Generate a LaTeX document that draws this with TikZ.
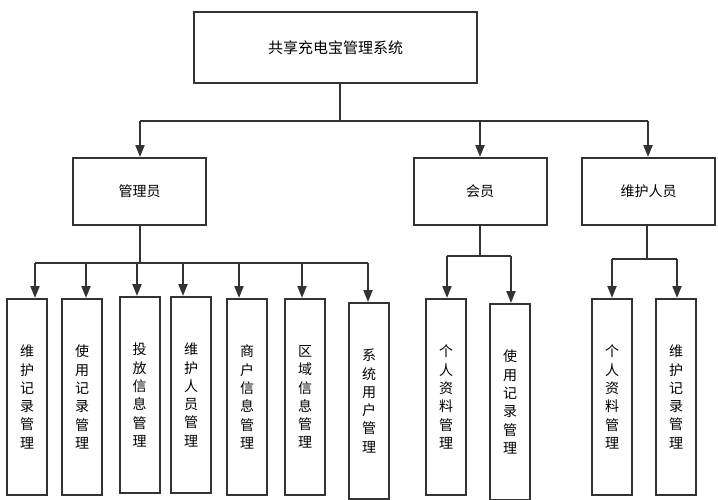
\documentclass[tikz,border=0pt]{standalone}
\usepackage{fontspec}
\newfontfamily\cjk{Noto Sans CJK SC}
\usetikzlibrary{arrows.meta}
\definecolor{ln}{HTML}{333333}

\begin{document}
\begin{tikzpicture}[x=1pt,y=-1pt,box/.style={shape=rectangle,draw=ln,line width=2pt,inner sep=0pt,font=\cjk\fontsize{14}{17}\selectfont},boxT/.style={box,minimum width=283pt,minimum height=71pt,font=\cjk\fontsize{15}{18}\selectfont},boxM/.style={box,minimum width=133pt,minimum height=67pt},leaf/.style={box,minimum width=40pt,minimum height=196pt,align=center,font=\cjk\fontsize{14}{18.3}\selectfont},link/.style={draw=ln,line width=2pt},arr/.style={link,-{Triangle[length=12pt,width=9pt]}}]
\def\yt{121};
\def\ya{263};
\def\yb{256};
\def\yc{259};

\useasboundingbox (0,0) rectangle (718,499);

\node[boxT] (T) at (335.5,47.5) {共享充电宝管理系统};

\node[boxM] (A) at (139.5,191.5) {管理员};
\node[boxM] (B) at (480,191.5) {会员};
\node[boxM] (C) at (648.5,191.5) {维护人员};

\coordinate (t0) at (340,\yt);
\coordinate (tA) at (140,\yt);
\coordinate (tB) at (480,\yt);
\coordinate (tC) at (648,\yt);
\draw[link] (t0 |- T.south) -- (t0);
\draw[link] (tA) -- (tC);
\draw[arr] (tA) -- (tA |- A.north);
\draw[arr] (tB) -- (tB |- B.north);
\draw[arr] (tC) -- (tC |- C.north);

% admin
\node[leaf] (A1) at (27,397) {维\\护\\记\\录\\管\\理};
\node[leaf] (A2) at (82,397) {使\\用\\记\\录\\管\\理};
\node[leaf] (A3) at (139.5,395) {投\\放\\信\\息\\管\\理};
\node[leaf] (A4) at (191,395) {维\\护\\人\\员\\管\\理};
\node[leaf] (A5) at (247,397) {商\\户\\信\\息\\管\\理};
\node[leaf] (A6) at (305,397) {区\\域\\信\\息\\管\\理};
\node[leaf] (A7) at (369,401) {系\\统\\用\\户\\管\\理};

\coordinate (a0) at (139.5,\ya);
\coordinate (a1) at (35,\ya);
\coordinate (a2) at (86,\ya);
\coordinate (a3) at (137,\ya);
\coordinate (a4) at (183,\ya);
\coordinate (a5) at (239,\ya);
\coordinate (a6) at (302,\ya);
\coordinate (a7) at (368,\ya);
\draw[link] (A.south) -- (a0);
\draw[link] (a1) -- (a7);
\foreach \i in {1,...,7}
  \draw[arr] (a\i) -- (a\i |- A\i.north);

% member
\node[leaf] (B1) at (446,397) {个\\人\\资\\料\\管\\理};
\node[leaf] (B2) at (510,402) {使\\用\\记\\录\\管\\理};

\coordinate (b0) at (480,\yb);
\coordinate (b1) at (447,\yb);
\coordinate (b2) at (511,\yb);
\draw[link] (B.south) -- (b0);
\draw[link] (b1) -- (b2);
\draw[arr] (b1) -- (b1 |- B1.north);
\draw[arr] (b2) -- (b2 |- B2.north);

% maintenance staff
\node[leaf] (C1) at (612,397) {个\\人\\资\\料\\管\\理};
\node[leaf] (C2) at (676,397) {维\\护\\记\\录\\管\\理};

\coordinate (c0) at (647,\yc);
\coordinate (c1) at (612,\yc);
\coordinate (c2) at (677,\yc);
\draw[link] (c0 |- C.south) -- (c0);
\draw[link] (c1) -- (c2);
\draw[arr] (c1) -- (c1 |- C1.north);
\draw[arr] (c2) -- (c2 |- C2.north);
\end{tikzpicture}
\end{document}
